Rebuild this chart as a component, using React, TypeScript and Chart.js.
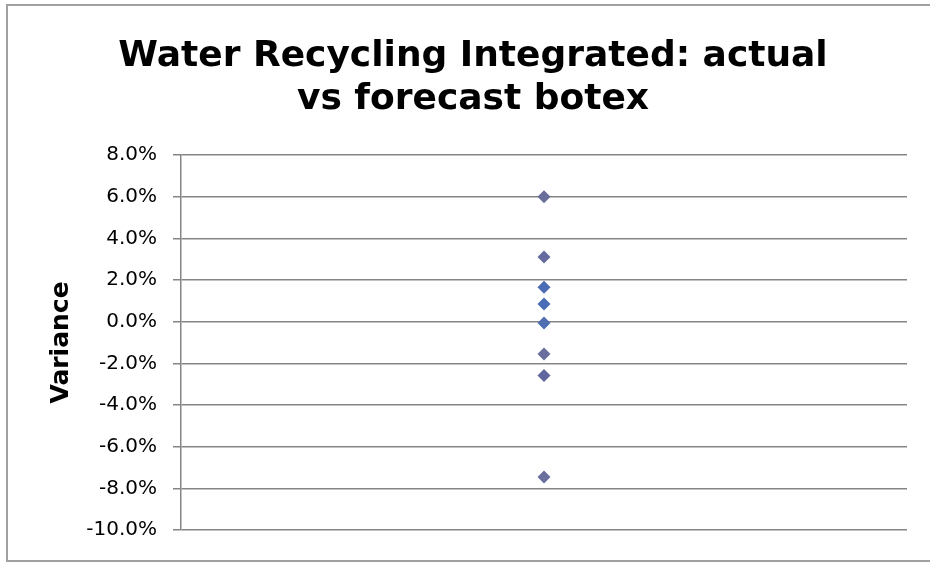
import React, { useEffect, useRef } from "react";
import { Chart, registerables } from "chart.js";

Chart.register(...registerables);

const titleLines = ["Water Recycling Integrated: actual", "vs forecast botex"];
const yAxisTitle = "Variance";
const categoryPosition = [1, 1, 1, 1, 1, 1, 1, 1];
const varianceValues = [6.0, 3.1, 1.65, 0.85, -0.06, -1.55, -2.58, -7.46];
const pointColors = [
  "#6a6e9c",
  "#666c9c",
  "#4b6db3",
  "#4b6db3",
  "#4f6fb2",
  "#6a6e9c",
  "#5f67a0",
  "#6a6e9c",
];
const yMin = -10;
const yMax = 8;
const yStep = 2;

export default function App() {
  const canvasRef = useRef<HTMLCanvasElement | null>(null);

  useEffect(() => {
    if (!canvasRef.current) return;
    const data = categoryPosition.map((x, i) => ({ x, y: varianceValues[i] }));
    const chart = new Chart(canvasRef.current, {
      type: "scatter",
      data: {
        datasets: [
          {
            label: "Variance",
            data,
            pointStyle: "rectRot",
            pointRadius: 6.5,
            pointHoverRadius: 6.5,
            pointBackgroundColor: pointColors,
            pointBorderColor: pointColors,
            pointBorderWidth: 0,
          },
        ],
      },
      options: {
        animation: false,
        responsive: false,
        events: [],
        layout: { padding: { top: 0, right: 0, bottom: 35, left: 0 } },
        plugins: {
          legend: { display: false },
          tooltip: { enabled: false },
          title: {
            display: true,
            text: titleLines,
            color: "#000000",
            font: { family: "DejaVu Sans", size: 36, weight: "bold", lineHeight: 1.2 },
            padding: { top: 35, bottom: 33.6 },
          },
        },
        scales: {
          x: {
            type: "linear",
            display: false,
            min: 0,
            max: 2,
          },
          y: {
            type: "linear",
            min: yMin,
            max: yMax,
            afterFit: (scale: any) => {
              scale.width = 181;
            },
            ticks: {
              stepSize: yStep,
              color: "#000000",
              font: { family: "DejaVu Sans", size: 20 },
              padding: 16,
              callback: (v: any) => Number(v).toFixed(1) + "%",
            },
            grid: {
              color: "#858585",
              lineWidth: 1.5,
              tickLength: 8,
              drawTicks: true,
            },
            border: { display: true, color: "#858585", width: 1.5 },
            title: {
              display: true,
              text: yAxisTitle,
              color: "#000000",
              font: { family: "DejaVu Sans", size: 25, weight: "bold", lineHeight: 1.2 },
              padding: { top: 46, bottom: 0 },
            },
          },
          yRight: {
            type: "linear",
            position: "right",
            min: yMin,
            max: yMax,
            display: true,
            afterFit: (scale: any) => {
              scale.width = 39;
            },
            ticks: { display: false },
            grid: { display: false, drawTicks: false },
            border: { display: false },
          },
        },
      },
    });
    return () => chart.destroy();
  }, []);

  return (
    <div style={{ position: "fixed", left: 0, top: 0, width: 930, height: 565, background: "#ffffff", overflow: "hidden" }}>
      <div
        style={{
          position: "absolute",
          left: 6,
          top: 4,
          width: 960,
          height: 558,
          borderTop: "2px solid #a0a0a0",
          borderLeft: "2px solid #a0a0a0",
          borderBottom: "2px solid #a0a0a0",
          boxSizing: "border-box",
        }}
      />
      <canvas ref={canvasRef} width={946} height={565} style={{ position: "absolute", left: 0, top: 0 }} />
    </div>
  );
}
